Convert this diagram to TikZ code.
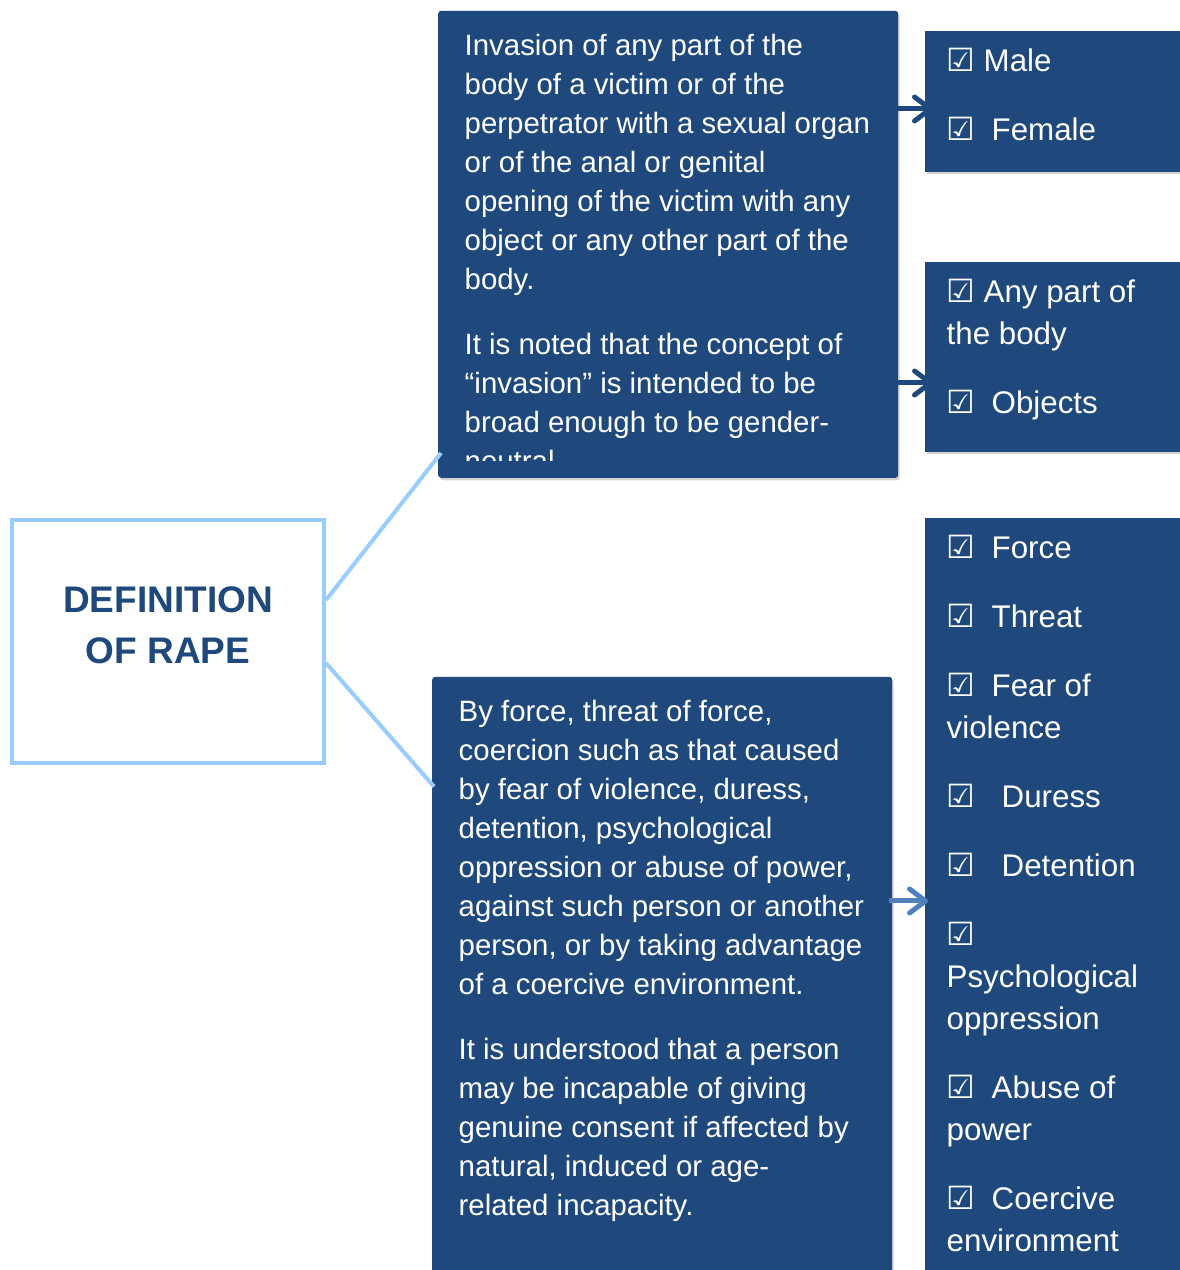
\documentclass[tikz,border=0pt]{standalone}
\usepackage{fontspec}
\setmainfont{Liberation Sans}
\newfontfamily\cbfont{DejaVu Sans}
\usetikzlibrary{arrows.meta,shadows,calc}
\definecolor{boxblue}{HTML}{1F497D}
\definecolor{lineblue}{HTML}{99CCFF}
\definecolor{arrowblue}{HTML}{4F81BD}
\newcommand\cbw[1]{\hbox to #1pt{\cbfont\bfseries\fontsize{32}{32}\selectfont ☑\hfil}}
\begin{document}
\begin{tikzpicture}[x=1pt,y=1pt,
  darkbox/.style={fill=boxblue, draw=none, inner sep=0pt, anchor=south west,
    drop shadow={shadow xshift=1.5pt, shadow yshift=-2.5pt, opacity=0.35}},
  txt/.style={inner sep=0pt, text=white, anchor=base west},
  conn/.style={draw=lineblue, line width=4pt},
  arr/.style={line width=5pt, -{Straight Barb[length=16pt,width=24pt,round]}}]
\useasboundingbox (0,0) rectangle (1179,1270);
\fill[white] (0,0) rectangle (1179,1270);

% dark boxes
\node[darkbox, rounded corners=3pt, minimum width=460pt, minimum height=467pt] (topbox) at (438,792) {};
\node[darkbox, rounded corners=3pt, minimum width=460pt, minimum height=603pt] (botbox) at (432,-10) {};
\node[darkbox, minimum width=260pt, minimum height=141pt] (sexbox) at (925,1098) {};
\node[darkbox, minimum width=260pt, minimum height=190pt] (objbox) at (925,818) {};
\node[darkbox, minimum width=260pt, minimum height=762pt] (meansbox) at (925,-10) {};

% top box text (clipped)
\begin{scope}
\clip (438,809) rectangle (898,1259);
\node[txt] (toptext) at (464.5,1214.5) {\vtop{\fontsize{29.4}{39}\selectfont
\hbox{Invasion of any part of the}
\hbox{body of a victim or of the}
\hbox{perpetrator with a sexual organ}
\hbox{or of the anal or genital}
\hbox{opening of the victim with any}
\hbox{object or any other part of the}
\hbox{body.}
\vskip26pt
\hbox{It is noted that the concept of}
\hbox{“invasion” is intended to be}
\hbox{broad enough to be gender-}
\hbox{neutral.}}};
\end{scope}

% bottom box text
\node[txt] (bottext) at (458.5,548.5) {\vtop{\fontsize{29.4}{39}\selectfont
\hbox{By force, threat of force,}
\hbox{coercion such as that caused}
\hbox{by fear of violence, duress,}
\hbox{detention, psychological}
\hbox{oppression or abuse of power,}
\hbox{against such person or another}
\hbox{person, or by taking advantage}
\hbox{of a coercive environment.}
\vskip26pt
\hbox{It is understood that a person}
\hbox{may be incapable of giving}
\hbox{genuine consent if affected by}
\hbox{natural, induced or age-}
\hbox{related incapacity.}}};

% right box texts
\node[txt] (sextext) at (946.5,1198) {\vtop{\fontsize{31.3}{42}\selectfont
\hbox{\cbw{37}Male}
\vskip27pt
\hbox{\cbw{45}Female}}};

\node[txt] (objtext) at (946.5,967) {\vtop{\fontsize{31.3}{42}\selectfont
\hbox{\cbw{37}Any part of}
\hbox{the body}
\vskip27pt
\hbox{\cbw{45}Objects}}};

\node[txt] (meanstext) at (946.5,711) {\vtop{\fontsize{31.3}{42}\selectfont
\hbox{\cbw{45}Force}
\vskip27pt
\hbox{\cbw{45}Threat}
\vskip27pt
\hbox{\cbw{45}Fear of}
\hbox{violence}
\vskip27pt
\hbox{\cbw{55}Duress}
\vskip27pt
\hbox{\cbw{55}Detention}
\vskip27pt
\hbox{\cbw{45}}
\hbox{Psychological}
\hbox{oppression}
\vskip27pt
\hbox{\cbw{45}Abuse of}
\hbox{power}
\vskip27pt
\hbox{\cbw{45}Coercive}
\hbox{environment}}};

% definition box
\node[draw=lineblue, line width=4pt, minimum width=312pt, minimum height=243pt, inner sep=0pt] (def) at (168,628.5) {};
\node[text=boxblue, font=\bfseries\fontsize{37}{51}\selectfont, align=center, inner sep=0pt] (title) at (168,645) {DEFINITION\\OF RAPE};

% connectors
\coordinate (c1s) at ($(def.east)+(0,41.5)$);
\coordinate (c1e) at ($(topbox.south west)+(3,25)$);
\coordinate (c2s) at ($(def.east)+(0,-21.5)$);
\coordinate (c2e) at ($(botbox.north west)+(2,-110)$);
\draw[conn] (c1s) -- (c1e);
\draw[conn] (c2s) -- (c2e);

% arrows
\coordinate (a1s) at (893,1161);
\coordinate (a1e) at (933,1161);
\coordinate (a2s) at (893,887);
\coordinate (a2e) at (933,887);
\coordinate (a3s) at (889,369);
\coordinate (a3e) at (928,369);
\draw[arr, draw=boxblue] (a1s) -- (a1e);
\draw[arr, draw=boxblue] (a2s) -- (a2e);
\draw[arr, draw=arrowblue] (a3s) -- (a3e);
\end{tikzpicture}
\end{document}
